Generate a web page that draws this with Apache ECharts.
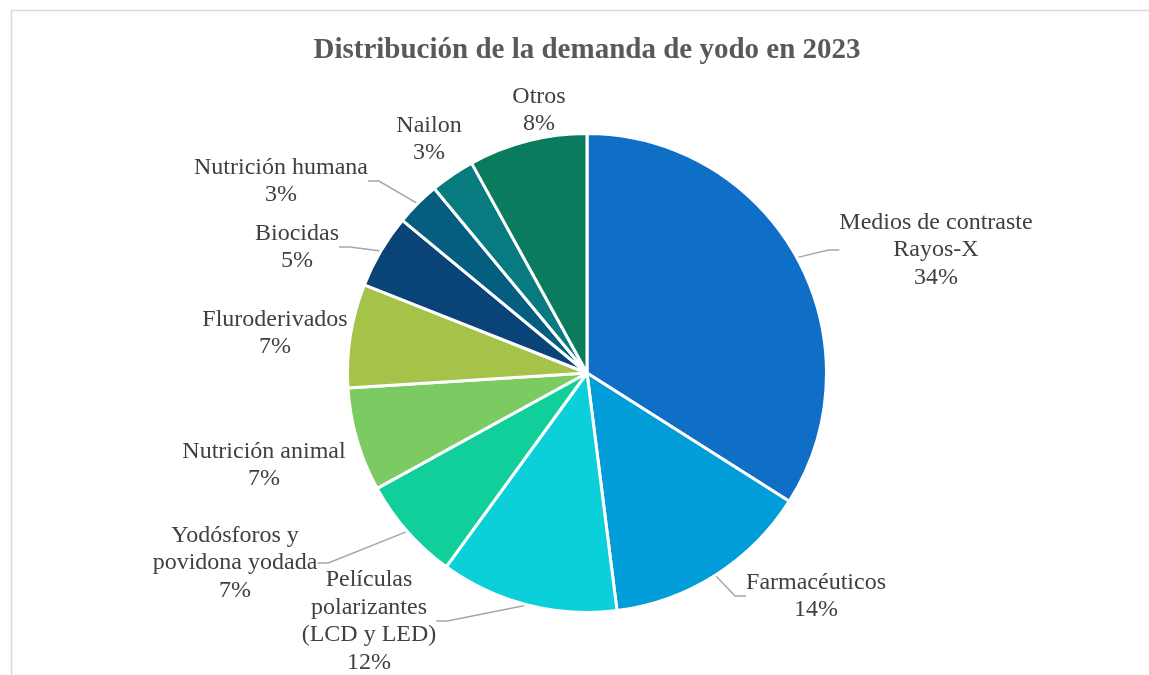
<!DOCTYPE html>
<html>
<head>
<meta charset="utf-8">
<style>
  html, body { margin: 0; padding: 0; background: #ffffff; }
  #chart { width: 1149px; height: 675px; }
</style>
<script src="https://cdn.jsdelivr.net/npm/echarts@6/dist/echarts.min.js"></script>
</head>
<body>
<div id="chart"></div>
<script>
// ---- Data ----
const titleText = 'Distribución de la demanda de yodo en 2023';
const categories = [
  'Medios de contraste\nRayos-X',
  'Farmacéuticos',
  'Películas\npolarizantes\n(LCD y LED)',
  'Yodósforos y\npovidona yodada',
  'Nutrición animal',
  'Fluroderivados',
  'Biocidas',
  'Nutrición humana',
  'Nailon',
  'Otros'
];
const shares = [34, 14, 12, 7, 7, 7, 5, 3, 3, 8];

// ---- Styling / layout (kept separate from the data) ----
const sliceColors = ['#0F6FC6', '#009DD9', '#0BD0D9', '#10CF9B', '#7CCA62', '#A5C249',
                     '#094377', '#055E80', '#077B80', '#0A7B5D'];
const showLeader = [true, true, true, true, false, false, true, true, false, false];
// centre of each data-label block, as placed manually in the reference
const labelCenters = [
  [936, 250], [816, 596], [369, 621], [235, 563], [264, 465],
  [275, 333], [297, 247], [281, 181], [429, 139], [539, 110]
];

const chart = echarts.init(document.getElementById('chart'), null, { renderer: 'canvas' });

const seriesData = categories.map((name, i) => ({
  name: name,
  value: shares[i],
  itemStyle: { color: sliceColors[i] },
  labelLine: { show: showLeader[i] }
}));

chart.setOption({
  animation: false,
  backgroundColor: '#ffffff',
  graphic: [{
    type: 'rect',
    silent: true,
    shape: { x: 11.5, y: 10.5, width: 1200, height: 700 },
    style: { fill: 'none', stroke: '#D9D9D9', lineWidth: 1.5 }
  }],
  title: {
    text: titleText,
    left: 587,
    top: 36,
    padding: 0,
    textAlign: 'center',
    textStyle: {
      fontFamily: '"Liberation Serif", "Times New Roman", serif',
      fontWeight: 'bold',
      fontSize: 29,
      color: '#595959'
    }
  },
  series: [{
    type: 'pie',
    center: [587, 373],
    radius: 239.5,
    startAngle: 90,
    clockwise: true,
    avoidLabelOverlap: false,
    data: seriesData,
    itemStyle: { borderColor: '#ffffff', borderWidth: 3 },
    label: {
      show: true,
      position: 'outside',
      formatter: '{b}\n{c}%',
      fontFamily: '"Liberation Serif", "Times New Roman", serif',
      fontSize: 24,
      lineHeight: 27.5,
      color: '#404040'
    },
    labelLine: {
      length: 10,
      length2: 11,
      smooth: false,
      lineStyle: { color: '#A6A6A6', width: 1.5 }
    },
    labelLayout: function (params) {
      const p = labelCenters[params.dataIndex];
      return { x: p[0], y: p[1], align: 'center', verticalAlign: 'middle' };
    },
    emphasis: { disabled: true }
  }]
});
</script>
</body>
</html>
